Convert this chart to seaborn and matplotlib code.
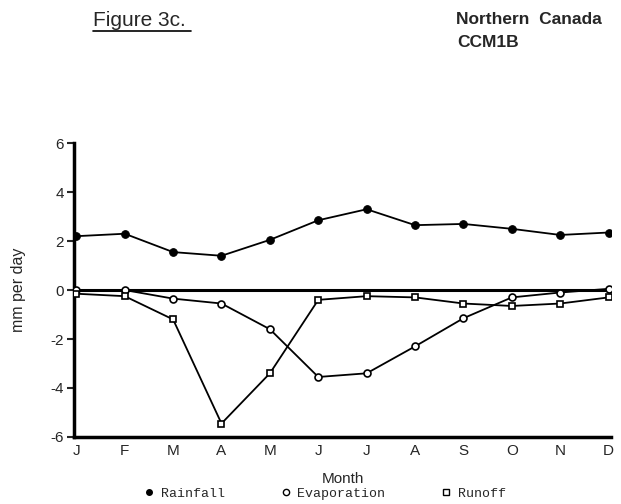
import matplotlib
matplotlib.use("Agg")
import matplotlib.pyplot as plt
from matplotlib.lines import Line2D
import seaborn as sns
import pandas as pd

months = ["J", "F", "M", "A", "M", "J", "J", "A", "S", "O", "N", "D"]
rainfall = [2.2, 2.3, 1.55, 1.4, 2.05, 2.85, 3.3, 2.65, 2.7, 2.5, 2.25, 2.35]
evaporation = [0.0, 0.0, -0.35, -0.55, -1.6, -3.55, -3.4, -2.3, -1.15, -0.3, -0.1, 0.05]
runoff = [-0.15, -0.25, -1.2, -5.45, -3.4, -0.4, -0.25, -0.3, -0.55, -0.65, -0.55, -0.3]
yticks = [-6, -4, -2, 0, 2, 4, 6]

sns.set_theme(style="white")
plt.rcParams["font.family"] = ["Liberation Sans", "DejaVu Sans"]

idx = list(range(len(months)))
df = pd.DataFrame({"m": idx, "Rainfall": rainfall, "Evaporation": evaporation, "Runoff": runoff})

fig = plt.figure(figsize=(6.21, 5.04), dpi=100)
ax = fig.add_axes([0.119, 0.133, 0.865, 0.583])

ax.axhline(0, color="black", lw=2.2, zorder=1)
sns.lineplot(data=df, x="m", y="Rainfall", ax=ax, color="black", lw=1.3,
             marker="o", markersize=5.5, markerfacecolor="black", markeredgecolor="black", zorder=3)
sns.lineplot(data=df, x="m", y="Evaporation", ax=ax, color="black", lw=1.3,
             marker="o", markersize=5, markerfacecolor="white", markeredgecolor="black",
             markeredgewidth=1.2, zorder=3)
sns.lineplot(data=df, x="m", y="Runoff", ax=ax, color="black", lw=1.3,
             marker="s", markersize=5, markerfacecolor="white", markeredgecolor="black",
             markeredgewidth=1.2, zorder=3)

ax.set_xlim(-0.05, 11.05)
ax.set_ylim(-6, 6)
ax.set_xticks(idx)
ax.set_xticklabels(months, fontsize=11)
ax.set_yticks(yticks)
ax.set_yticklabels([str(v) for v in yticks], fontsize=11)
ax.tick_params(axis="x", length=0, pad=5)
ax.tick_params(axis="y", length=5, width=1.5, direction="out", left=True, pad=2)
for s in ["top", "right"]:
    ax.spines[s].set_visible(False)
for s in ["left", "bottom"]:
    ax.spines[s].set_linewidth(2.5)
    ax.spines[s].set_color("black")
ax.set_xlabel("Month", fontsize=11, labelpad=10)
ax.set_ylabel("mm per day", fontsize=11.5, labelpad=18)

fig.text(0.150, 0.960, "Figure 3c.", fontsize=15, ha="left", va="center")
fig.add_artist(Line2D([0.150, 0.308], [0.938, 0.938], color="black", lw=1.2))
fig.text(0.734, 0.961, "Northern  Canada", fontsize=12.5, fontweight="bold", ha="left", va="center")
fig.text(0.736, 0.915, "CCM1B", fontsize=12.5, fontweight="bold", ha="left", va="center")

handles = [
    Line2D([], [], ls="none", marker="o", markersize=4, markerfacecolor="black", markeredgecolor="black"),
    Line2D([], [], ls="none", marker="o", markersize=4.5, markerfacecolor="white", markeredgecolor="black"),
    Line2D([], [], ls="none", marker="s", markersize=5, markerfacecolor="white", markeredgecolor="black"),
]
fig.legend(handles, ["Rainfall", "Evaporation", "Runoff"], loc="center", bbox_to_anchor=(0.522, 0.02),
           ncol=3, frameon=False, prop={"family": "Liberation Mono", "size": 9.5},
           handletextpad=0.4, columnspacing=4.1, handlelength=1.0, borderpad=0.1)

fig.savefig("out.png", dpi=100)
